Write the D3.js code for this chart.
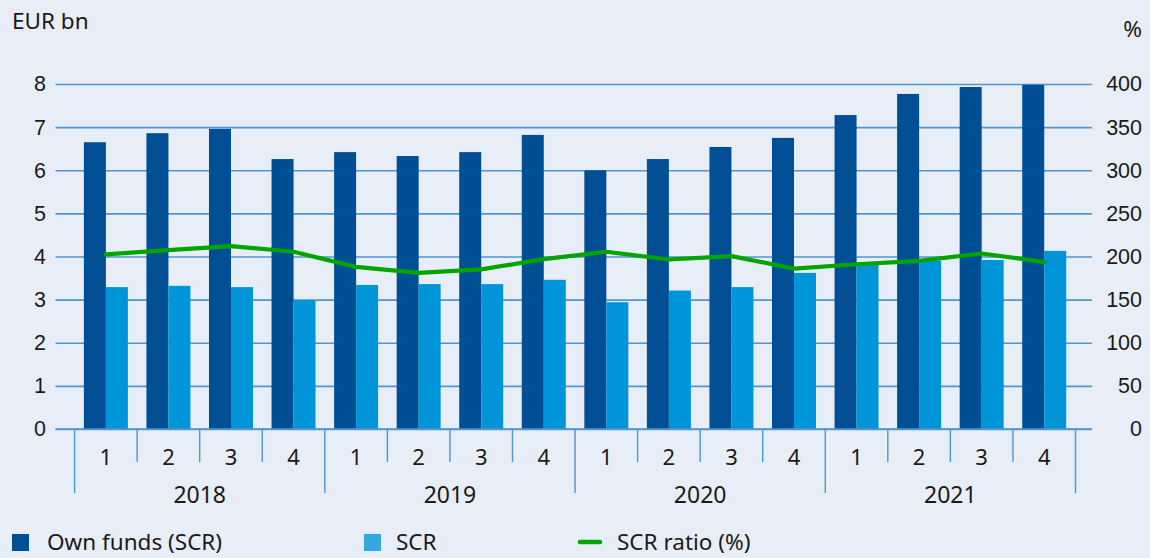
<!DOCTYPE html>
<html lang="en">
<head>
<meta charset="UTF-8">
<title>Own funds and SCR</title>
<script src="https://d3js.org/d3.v7.min.js"></script>
<style>
  body { margin: 0; background: #e8eef7; }
  svg { display: block; font-family: "Noto Sans", Lato, sans-serif; }
  .axis text { fill: #1a1a1a; font-size: 21.5px; }
</style>
</head>
<body>
<svg id="chart" width="1150" height="558"></svg>
<script>
// data
const years = ["2018", "2019", "2020", "2021"];
const quarters = ["1", "2", "3", "4"];
const ownFunds = [6.65, 6.86, 6.96, 6.26, 6.42, 6.33, 6.42, 6.82,
                  6.00, 6.26, 6.54, 6.75, 7.28, 7.77, 7.93, 7.98];
const scr = [3.29, 3.32, 3.29, 2.99, 3.34, 3.36, 3.36, 3.46,
             2.94, 3.21, 3.29, 3.62, 3.82, 3.90, 3.92, 4.13];
const scrRatio = [202.5, 207.5, 212, 205.5, 188, 181, 185, 197,
                  205.5, 196.5, 200.5, 186, 191, 195, 203.5, 193.5];
const leftTicks = [0, 1, 2, 3, 4, 5, 6, 7, 8];
const rightTicks = [0, 50, 100, 150, 200, 250, 300, 350, 400];

const cats = years.flatMap(y => quarters.map(q => y + "-" + q));

const gridColor = "#4f96cf";
const svg = d3.select("#chart");

const x = d3.scaleBand().domain(cats).range([74.6, 1075.5]).paddingInner(0).paddingOuter(0);
const inner = d3.scaleBand().domain(["own", "scr"]).range([0, 44]);
const barOffset = (x.bandwidth() - 44) / 2;
const yL = d3.scaleLinear().domain([0, 8]).range([429, 84]);
const yR = d3.scaleLinear().domain([0, 400]).range([429, 84]);

const plotLeft = 55.5, plotRight = 1092;

// gridlines
const gl = svg.append("g")
  .attr("transform", `translate(${plotRight},0)`)
  .call(d3.axisLeft(yL).tickValues(leftTicks).tickSize(plotRight - plotLeft));
gl.select(".domain").remove();
gl.selectAll(".tick line").attr("stroke", gridColor).attr("stroke-width", 1.6);
gl.selectAll(".tick text").remove();

// left and right tick labels
svg.append("g").attr("class", "axis")
  .attr("transform", "translate(46,0)")
  .call(d3.axisLeft(yL).tickValues(leftTicks).tickSize(0).tickPadding(0))
  .call(g => g.select(".domain").remove());

svg.append("g").attr("class", "axis")
  .attr("transform", "translate(1142,0)")
  .call(d3.axisLeft(yR).tickValues(rightTicks).tickSize(0).tickPadding(0))
  .call(g => g.select(".domain").remove());

// bars
const groups = svg.append("g").selectAll("g").data(cats).join("g")
  .attr("transform", d => `translate(${x(d) + barOffset},0)`);
groups.append("rect")
  .attr("x", inner("own")).attr("width", inner.bandwidth())
  .attr("y", (d, i) => yL(ownFunds[i])).attr("height", (d, i) => yL(0) - yL(ownFunds[i]))
  .attr("fill", "#004f94");
groups.append("rect")
  .attr("x", inner("scr")).attr("width", inner.bandwidth())
  .attr("y", (d, i) => yL(scr[i])).attr("height", (d, i) => yL(0) - yL(scr[i]))
  .attr("fill", "#0095d9");

// x axis line
svg.append("line")
  .attr("x1", plotLeft).attr("x2", plotRight)
  .attr("y1", yL(0)).attr("y2", yL(0))
  .attr("stroke", gridColor).attr("stroke-width", 1.6);

// category separators: short between quarters, long between years
const bounds = d3.range(cats.length + 1);
const edge = i => i < cats.length ? x(cats[i]) : x(cats[cats.length - 1]) + x.bandwidth();
svg.append("g").selectAll("line").data(bounds).join("line")
  .attr("x1", edge).attr("x2", edge)
  .attr("y1", yL(0))
  .attr("y2", i => i % 4 === 0 ? 493 : 462)
  .attr("stroke", gridColor).attr("stroke-width", 1.4);

// quarter labels
svg.append("g").attr("class", "axis").selectAll("text").data(cats).join("text")
  .attr("x", d => x(d) + x.bandwidth() / 2)
  .attr("y", 465)
  .style("font-size", "22px")
  .attr("text-anchor", "middle")
  .text(d => d.split("-")[1]);

// year labels
svg.append("g").attr("class", "axis").selectAll("text").data(years).join("text")
  .attr("x", y => x(y + "-1") + x.bandwidth() * 2)
  .attr("y", 503)
  .style("font-size", "23px")
  .attr("text-anchor", "middle")
  .text(d => d);

// ratio line
const line = d3.line()
  .x((d, i) => x(cats[i]) + x.bandwidth() / 2)
  .y(d => yR(d));
svg.append("path").datum(scrRatio)
  .attr("d", line)
  .attr("fill", "none")
  .attr("stroke", "#00a500")
  .attr("stroke-width", 4.2)
  .attr("stroke-linejoin", "round")
  .attr("stroke-linecap", "round");

// unit labels
svg.append("text").attr("x", 12).attr("y", 29)
  .attr("font-size", 22.5).attr("fill", "#1a1a1a").text("EUR bn");
svg.append("text").attr("x", 1142).attr("y", 37).attr("text-anchor", "end")
  .attr("font-size", 22.5).attr("fill", "#1a1a1a").text("%");

// legend
const legend = svg.append("g").attr("font-size", 22.5).attr("fill", "#1a1a1a");
legend.append("rect").attr("x", 12).attr("y", 534).attr("width", 17).attr("height", 17).attr("fill", "#004f94");
legend.append("text").attr("x", 47).attr("y", 550).text("Own funds (SCR)");
legend.append("rect").attr("x", 364).attr("y", 534).attr("width", 17).attr("height", 17).attr("fill", "#35a8e0");
legend.append("text").attr("x", 396).attr("y", 550).text("SCR");
legend.append("line").attr("x1", 580).attr("x2", 600).attr("y1", 542).attr("y2", 542)
  .attr("stroke", "#00a500").attr("stroke-width", 4.5).attr("stroke-linecap", "round");
legend.append("text").attr("x", 617).attr("y", 550).text("SCR ratio (%)");
</script>
</body>
</html>
